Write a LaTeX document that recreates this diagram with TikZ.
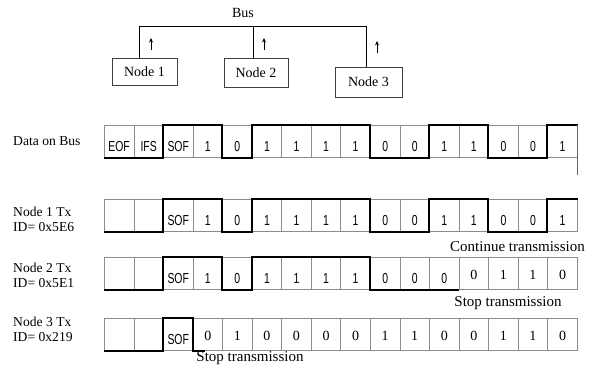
\documentclass[tikz,border=0pt]{standalone}
\usepackage{fontspec}
\setmainfont{Liberation Serif}
\newfontfamily\bitsans{Liberation Sans}[FakeStretch=0.72]
\usetikzlibrary{arrows.meta}
\newcommand\bits{\bitsans\fontsize{14.5}{14.5}\selectfont}
\newcommand\bitr{\rmfamily\fontsize{14}{14}\selectfont}
\newcommand\bitoffs{10.5pt}
\newcommand\bitoffr{6.5pt}
\begin{document}
\begin{tikzpicture}[x=1pt,y=-1pt,
  cell/.style={draw=black!45, line width=0.7pt, minimum width=29.56pt, minimum height=32pt, inner sep=0pt, anchor=north west},
  bittext/.style={inner sep=0pt, anchor=base},
  wave/.style={line width=2.1pt, line join=miter},
  lbl/.style={font=\fontsize{13.6}{15}\selectfont, align=left, anchor=west, inner sep=0pt},
  note/.style={font=\fontsize{15}{16}\selectfont, inner sep=0pt},
  box/.style={draw=black!75, line width=0.8pt, font=\fontsize{14}{15}\selectfont, inner sep=0pt},
  busline/.style={line width=1pt},
  up/.style={line width=0.8pt, -{Stealth[length=4.5pt,width=4pt]}}]
\useasboundingbox (0,0) rectangle (597,372);

% ---- top bus sketch ----
\node[font=\fontsize{14}{15}\selectfont, inner sep=0pt] (buslbl) at (243,13) {Bus};
\node[box, minimum width=65pt, minimum height=27pt] (n1) at (144.5,71.5) {Node 1};
\node[box, minimum width=64pt, minimum height=29pt] (n2) at (256,72.5) {Node 2};
\node[box, minimum width=67pt, minimum height=30pt] (n3) at (368.5,82) {Node 3};
\coordinate (b1) at (139,26);
\coordinate (b2) at (253,26);
\coordinate (b3) at (366,26);
\draw[busline] (b1) -- (b3);
\draw[busline] (b1) -- (b1 |- n1.north);
\draw[busline] (b2) -- (b2 |- n2.north);
\draw[busline] (b3) -- (b3 |- n3.north);
\coordinate (a1s) at (151,50); \coordinate (a1e) at (151,38);
\coordinate (a2s) at (264,50); \coordinate (a2e) at (264,38);
\coordinate (a3s) at (377,53); \coordinate (a3e) at (377,41);
\draw[up] (a1s) -- (a1e);
\draw[up] (a2s) -- (a2e);
\draw[up] (a3s) -- (a3e);

% ---- rows of cells ----
\foreach \r/\y/\cells in {
  A/125/{EOF/s,IFS/s,SOF/s,1/s,0/s,1/s,1/s,1/s,1/s,0/s,0/s,1/s,1/s,0/s,0/s,1/s},
  B/199/{{}/s,{}/s,SOF/s,1/s,0/s,1/s,1/s,1/s,1/s,0/s,0/s,1/s,1/s,0/s,0/s,1/s},
  C/257/{{}/s,{}/s,SOF/s,1/s,0/s,1/s,1/s,1/s,1/s,0/s,0/s,0/s,0/r,1/r,1/r,0/r},
  D/318/{{}/s,{}/s,SOF/s,0/r,1/r,0/r,0/r,0/r,0/r,1/r,1/r,0/r,0/r,1/r,1/r,0/r}} {
  \foreach \t/\f [count=\i from 0] in \cells {
    \node[cell] (\r\i) at ({104+29.56*\i},\y) {};
    \node[bittext] (\r t\i) at ([yshift=-\csname bitoff\f\endcsname]\r\i.center) {\csname bit\f\endcsname \t};
  }
}

% ---- waveforms ----
\draw[wave] (A0.south west) -| (A2.north west) -| (A4.south west) -| (A5.north west)
  -| (A9.south west) -| (A11.north west) -| (A13.south west) -| (A15.north west) -- (A15.north east);
\coordinate (Aend) at ([yshift=-50pt]A15.north east);
\draw[line width=0.6pt, black!60] (A15.north east) -- (Aend);
\draw[wave] (B0.south west) -| (B2.north west) -| (B4.south west) -| (B5.north west)
  -| (B9.south west) -| (B11.north west) -| (B13.south west) -| (B15.north west) -- (B15.north east);
\draw[wave] (C0.south west) -| (C2.north west) -| (C4.south west) -| (C5.north west)
  -| (C9.south west) -- (C12.south west);
\coordinate (Dend) at ([xshift=12pt]D3.south west);
\draw[wave] (D0.south west) -| (D2.north west) -| (D3.south west) -- (Dend);

% ---- labels ----
\node[lbl] (lA) at (13,141) {Data on Bus};
\node[lbl] (lB) at (13,219.5) {Node 1 Tx\\ID= 0x5E6};
\node[lbl] (lC) at (13,275.5) {Node 2 Tx\\ID= 0x5E1};
\node[lbl] (lD) at (13,329) {Node 3 Tx\\ID= 0x219};
\node[note] (sB) at (517.5,247) {Continue transmission};
\node[note] (sC) at (508,303) {Stop transmission};
\node[note] (sD) at (250,358) {Stop transmission};
\end{tikzpicture}
\end{document}
